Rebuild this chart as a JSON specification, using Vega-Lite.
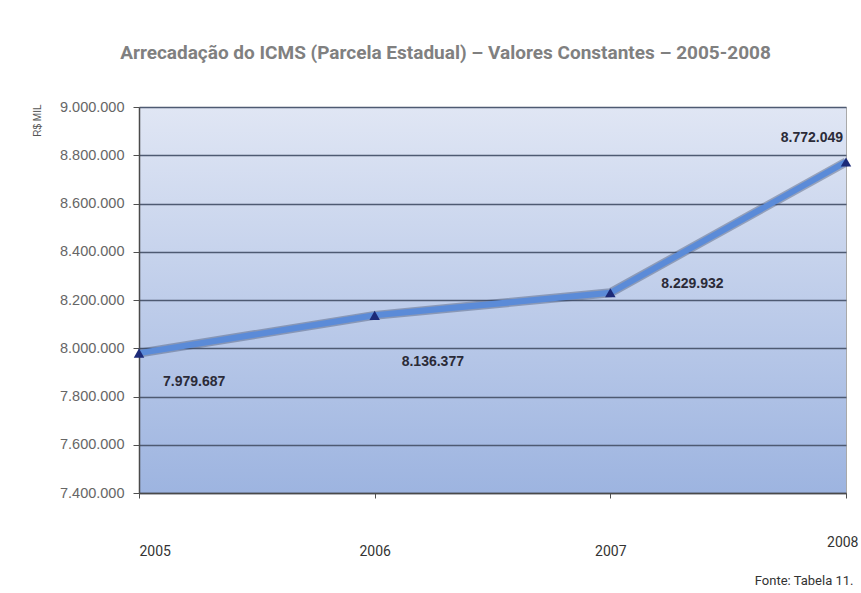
{
  "$schema": "https://vega.github.io/schema/vega-lite/v6.json",
  "autosize": {"type": "none"},
  "width": 707,
  "height": 386,
  "padding": {"left": 139, "top": 107, "right": 15, "bottom": 100},
  "background": "white",
  "title": {
    "text": "Arrecadação do ICMS (Parcela Estadual) – Valores Constantes – 2005-2008",
    "font": "Roboto",
    "fontSize": 19,
    "fontWeight": "bold",
    "color": "#808080",
    "anchor": "middle",
    "frame": "group",
    "dx": -47,
    "offset": 36
  },
  "config": {
    "locale": {"number": {"decimal": ",", "thousands": ".", "grouping": [3], "currency": ["R$ ", ""]}},
    "view": {
      "stroke": "#a9a9a9",
      "strokeWidth": 1,
      "fill": {
        "gradient": "linear",
        "x1": 0, "y1": 0, "x2": 0, "y2": 1,
        "stops": [
          {"offset": 0, "color": "#e0e6f4"},
          {"offset": 1, "color": "#9db4e0"}
        ]
      }
    }
  },
  "data": {
    "values": [
      {"ano": 2005, "valor": 7979687},
      {"ano": 2006, "valor": 8136377},
      {"ano": 2007, "valor": 8229932},
      {"ano": 2008, "valor": 8772049}
    ]
  },
  "encoding": {
    "x": {
      "field": "ano",
      "type": "quantitative",
      "scale": {"domain": [2005, 2008], "nice": false, "zero": false},
      "axis": {
        "values": [2005, 2006, 2007, 2008],
        "format": "d",
        "labelFlush": true,
        "labelFont": "Roboto",
        "labelFontSize": 14,
        "labelColor": "#333333",
        "labelPadding": {"condition": {"test": "datum.value == 2008", "value": 37}, "value": 46},
        "labelOffset": {"condition": {"test": "datum.value == 2008", "value": 12}, "value": 0},
        "tickSize": 5,
        "tickColor": "#505050",
        "domainColor": "#4a4a4a",
        "domainWidth": 1.5,
        "grid": false,
        "title": "Fonte: Tabela 11.",
        "titleFont": "Roboto",
        "titleFontSize": 13,
        "titleFontWeight": "normal",
        "titleColor": "#333333",
        "titleAnchor": "end",
        "titleAlign": "right",
        "titleBaseline": "middle",
        "titleX": 714,
        "titleY": 87
      }
    },
    "y": {
      "field": "valor",
      "type": "quantitative",
      "scale": {"domain": [7400000, 9000000], "nice": false, "zero": false},
      "axis": {
        "values": [7400000, 7600000, 7800000, 8000000, 8200000, 8400000, 8600000, 8800000, 9000000],
        "format": ",d",
        "labelFont": "Liberation Sans",
        "labelFontSize": 14.5,
        "labelColor": "#666666",
        "labelPadding": 9,
        "tickSize": 6,
        "tickColor": "#505050",
        "domainColor": "#4a4a4a",
        "domainWidth": 1.5,
        "grid": true,
        "gridColor": "#4e5a72",
        "gridWidth": 1.5,
        "title": "R$ MIL",
        "titleFont": "Liberation Sans",
        "titleFontSize": 10,
        "titleFontWeight": "normal",
        "titleColor": "#555555",
        "titleAngle": -90,
        "titleAlign": "right",
        "titleBaseline": "middle",
        "titleX": -102,
        "titleY": -3
      }
    }
  },
  "layer": [
    {
      "mark": {"type": "line", "stroke": "#3b4a6b", "strokeWidth": 9, "opacity": 0.4}
    },
    {
      "mark": {"type": "line", "stroke": "#5b8bd8", "strokeWidth": 6}
    },
    {
      "mark": {"type": "point", "shape": "triangle-up", "filled": true, "color": "#1c2a78", "size": 110, "opacity": 1}
    },
    {
      "transform": [{"filter": "datum.ano == 2005"}],
      "mark": {"type": "text", "font": "Liberation Sans", "fontSize": 14, "fontWeight": "bold", "color": "#2b2b38", "align": "left", "baseline": "middle", "dx": 24, "dy": 29},
      "encoding": {"text": {"field": "valor", "type": "quantitative", "format": ",d"}}
    },
    {
      "transform": [{"filter": "datum.ano == 2006"}],
      "mark": {"type": "text", "font": "Liberation Sans", "fontSize": 14, "fontWeight": "bold", "color": "#2b2b38", "align": "left", "baseline": "middle", "dx": 27, "dy": 47},
      "encoding": {"text": {"field": "valor", "type": "quantitative", "format": ",d"}}
    },
    {
      "transform": [{"filter": "datum.ano == 2007"}],
      "mark": {"type": "text", "font": "Liberation Sans", "fontSize": 14, "fontWeight": "bold", "color": "#2b2b38", "align": "left", "baseline": "middle", "dx": 51, "dy": -9},
      "encoding": {"text": {"field": "valor", "type": "quantitative", "format": ",d"}}
    },
    {
      "transform": [{"filter": "datum.ano == 2008"}],
      "mark": {"type": "text", "font": "Liberation Sans", "fontSize": 14, "fontWeight": "bold", "color": "#2b2b38", "align": "right", "baseline": "middle", "dx": -3, "dy": -24},
      "encoding": {"text": {"field": "valor", "type": "quantitative", "format": ",d"}}
    }
  ]
}
